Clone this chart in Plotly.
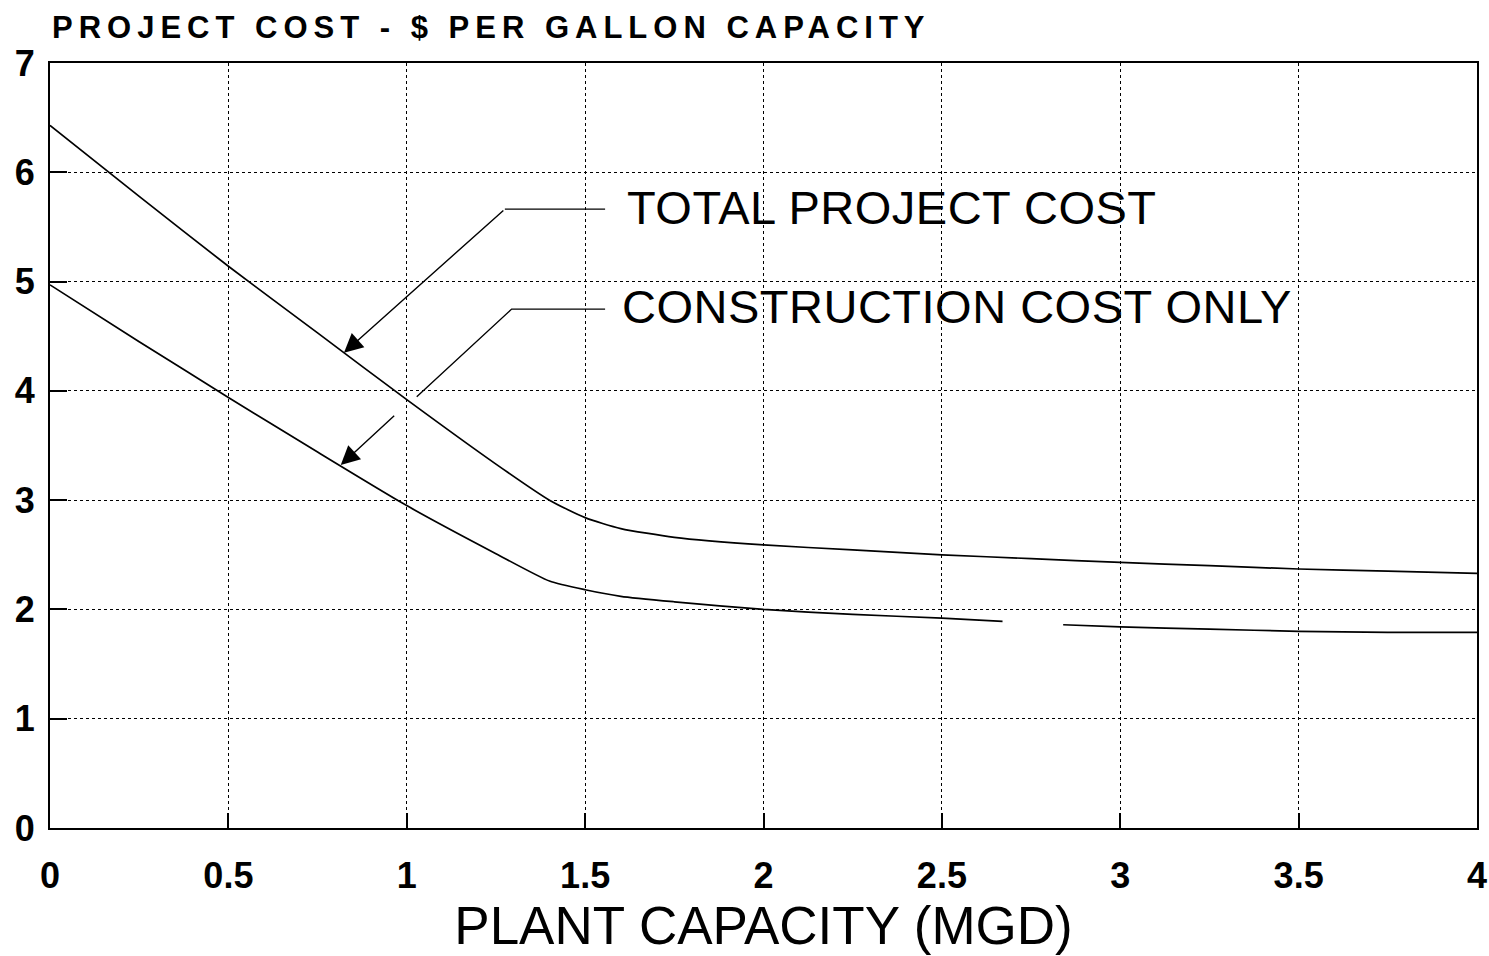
import plotly.graph_objects as go

# ---- data ----
capacity_total = [0, 0.25, 0.5, 0.75, 1.0, 1.25, 1.4, 1.5, 1.6, 1.75, 2.0, 2.25, 2.5, 2.75, 3.0, 3.25, 3.5, 3.75, 4.0]
total_cost = [6.43, 5.78, 5.14, 4.53, 3.92, 3.33, 3.0, 2.84, 2.74, 2.66, 2.59, 2.545, 2.50, 2.465, 2.43, 2.40, 2.37, 2.35, 2.33]

capacity_constr = [0, 0.25, 0.5, 0.75, 1.0, 1.25, 1.4, 1.5, 1.6, 1.75, 2.0, 2.25, 2.5, 2.67, 2.75, 2.84, 3.0, 3.25, 3.5, 3.75, 4.0]
construction_cost = [4.97, 4.45, 3.94, 3.44, 2.95, 2.51, 2.26, 2.18, 2.12, 2.07, 2.0, 1.955, 1.92, 1.89, None, 1.86, 1.84, 1.82, 1.80, 1.79, 1.79]

x_ticks = [0, 0.5, 1, 1.5, 2, 2.5, 3, 3.5, 4]
x_tick_labels = ["0", "0.5", "1", "1.5", "2", "2.5", "3", "3.5", "4"]
y_ticks = [0, 1, 2, 3, 4, 5, 6, 7]

FONT = "Liberation Sans, Arial, Helvetica, sans-serif"

fig = go.Figure()
fig.add_trace(go.Scatter(x=capacity_total, y=total_cost, mode="lines",
                         line=dict(color="black", width=1.7, shape="spline", smoothing=0.6),
                         name="TOTAL PROJECT COST", connectgaps=False))
fig.add_trace(go.Scatter(x=capacity_constr, y=construction_cost, mode="lines",
                         line=dict(color="black", width=1.7, shape="spline", smoothing=0.6),
                         name="CONSTRUCTION COST ONLY", connectgaps=False))

# leader lines
fig.add_shape(type="line", xref="x", yref="y", x0=1.556, y0=5.663, x1=1.275, y1=5.663,
              line=dict(color="black", width=1.4))
fig.add_shape(type="path", xref="x", yref="y",
              path="M 1.556 4.748 L 1.294 4.748 L 1.028 3.946",
              line=dict(color="black", width=1.4))

arrow_common = dict(xref="x", yref="y", axref="x", ayref="y", showarrow=True,
                    arrowhead=2, arrowsize=2.7, arrowwidth=1.4, arrowcolor="black",
                    text="", standoff=0)
fig.add_annotation(x=0.824, y=4.349, ax=1.275, ay=5.663, **arrow_common)
fig.add_annotation(x=0.815, y=3.321, ax=0.969, ay=3.785, **arrow_common)

# labels
label_font = dict(family=FONT, size=47, color="black")
fig.add_annotation(x=1.612, y=5.672, xref="x", yref="y", yshift=1,
                   text="<span style='letter-spacing:0.5px'>TOTAL PROJECT COST</span>",
                   showarrow=False, xanchor="left", yanchor="middle", font=label_font)
fig.add_annotation(x=1.598, y=4.762, xref="x", yref="y", yshift=1,
                   text="<span style='letter-spacing:0.5px'>CONSTRUCTION COST ONLY</span>",
                   showarrow=False, xanchor="left", yanchor="middle", font=label_font)

# title
fig.add_annotation(x=0, y=1, xref="paper", yref="paper", xanchor="left", yanchor="middle",
                   yshift=36,
                   text="<span style='letter-spacing:6px'>PROJECT COST - $ PER GALLON CAPACITY</span>",
                   showarrow=False,
                   font=dict(family=FONT, size=31, color="black", weight="bold"))

fig.update_layout(
    width=1489, height=956,
    margin=dict(l=50, r=12, t=63, b=128, autoexpand=False),
    paper_bgcolor="white", plot_bgcolor="white",
    showlegend=False,
    font=dict(family=FONT, color="black"),
)

fig.update_xaxes(
    range=[0, 4], tickvals=x_ticks, ticktext=x_tick_labels,
    showline=True, linecolor="black", linewidth=2, mirror=True,
    ticks="inside", ticklen=15, tickwidth=1.5, tickcolor="black",
    showgrid=True, gridcolor="black", gridwidth=1, griddash="dot",
    zeroline=False, automargin=False,
    tickfont=dict(family=FONT, size=36, color="black", weight="bold"),
    ticklabelstandoff=15,
    title=dict(text="PLANT CAPACITY (MGD)", font=dict(family=FONT, size=53, color="black"),
               standoff=7),
)
fig.update_yaxes(
    range=[0, 7], tickvals=y_ticks,
    showline=True, linecolor="black", linewidth=2, mirror=True,
    ticks="inside", ticklen=17, tickwidth=1.5, tickcolor="black",
    showgrid=True, gridcolor="black", gridwidth=1, griddash="dot",
    zeroline=False, automargin=False,
    tickfont=dict(family=FONT, size=36, color="black", weight="bold"),
    ticklabelstandoff=6,
)

# remove the default 8px page margin so the figure fills the window exactly; hide the modebar
fig.write_html("out.html",
               config={"displayModeBar": False},
               post_script="document.body.style.margin='0';document.body.style.overflow='hidden';")
